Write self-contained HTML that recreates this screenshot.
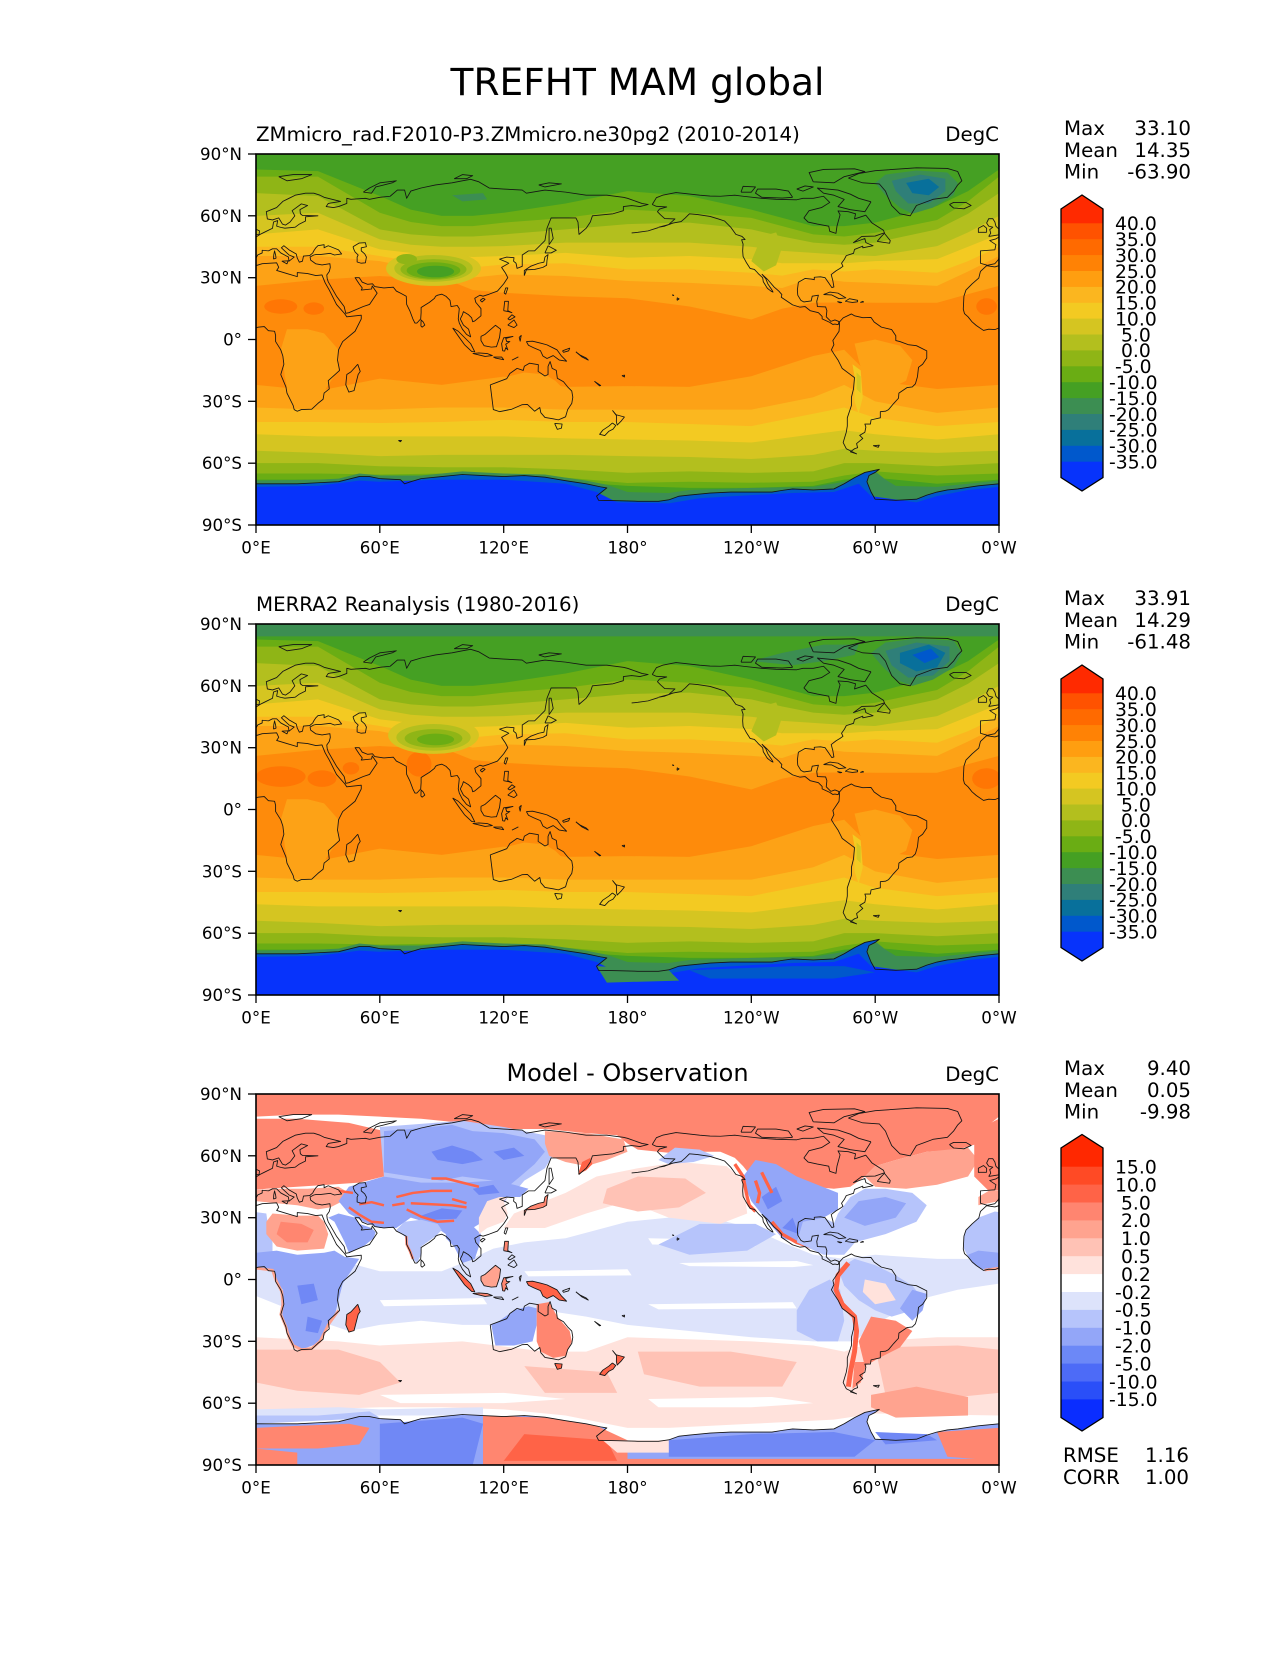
<!DOCTYPE html>
<html><head><meta charset="utf-8"><style>
html,body{margin:0;padding:0;background:#fff;}
svg text{font-family:"DejaVu Sans","Liberation Sans",sans-serif;fill:#000;}
</style></head><body>
<svg width="1275" height="1650" viewBox="0 0 1275 1650" xmlns="http://www.w3.org/2000/svg">
<defs>
<g id="coastA" fill="none" stroke="#151515" stroke-width="0.42" stroke-linejoin="round">
<polyline points="-5.6,36 -9,37 -9,43 -2,43.5 -1.5,46 -4.5,48 -1.5,48.8 2,51 4,52 8,54 8.5,57 10.5,57.7 10,55 12,54.4 14,54 19,54.5 21,56 24,57.5 24,59.5 30,60 22.5,60.2 21.5,61 21.3,63 25,65 22,65.8 17.5,62.5 18.8,60 16.5,57 14.3,55.5 12.8,56 11,59 8,58 5.5,58.5 5,62 10,64 13,67 16,68.5 19,70 24,71 28,71 31,70 33,69 41,67 35,66 34,64.5 37.5,64 40,64.5 44,66 44,68.5 46,68 53,68.5 55,68 60,69 65,69.5 68.5,72.5 72,72.5 73,68.5 75,72 80,73.5 87,75 95,76 100,77 104,77.7 108,76.5 113,73.5 120,73 129,72.5 131,71 140,72.5 150,71.5 160,70 170,70 178,69 180,68.5 187,66 190,65.5 186,64.5 182,65 178,64.5 178,62.5 173,61 163,60 162,57 160,54 156.5,51 156,57 155,59 152,59 143,59 141,54 140,48 135,43 132,43 129,41 129,35.5 126.5,34.5 126,37 124.8,38 125,39.7 121.5,40 118,39 121.5,37.5 122.5,37 119,35 121,32 122,30 120,27 117,23.5 113,22 110,21 108.5,21.5 106,20 106.5,18 109,15 109,11.5 106,9 105,8.6 104.5,10.5 103,12 100.5,13.5 100,12 99,10 100.5,7 103,5 104,1.3 102,2.5 100,5 98.5,8 98,10 98.5,15 97.5,16.5 94.5,16 94,19 92,21 90,22 88,21.5 87,21 86.5,20 84,18 80,15.5 80,13 79.8,10 78,8 77,8 76,10 74.5,14 73,17 72.8,21 70,22.5 68,23.5 66.5,25.4 62,25 57.5,25.7 56.5,27 54,26.8 51.5,27.8 50,30 48,30 50,27 51.5,25 51,24 56,24.5 56.3,26 58.7,22.5 55,17 52,16 45,13 43.5,12.7 42.7,16 39,21 35,28 34.5,29.5 34.3,31.3 35.5,33 36,35 35.8,36.8 32,36.2 29,36.7 26.5,38.5 26.2,40 28,41 29,41.2 31,41.2 36,41.8 38,41 41.5,41.5 40,43.5 37,44.7 35,45.5 33,44.5 33,46 30,45.5 29,44.5 28,43 27.5,42 26,40.7 23,40.5 22.5,38 21,37.5 20,39.5 19.5,41.5 16,43.5 13.5,45.5 12.3,44.5 16,41 18.5,40 16,38 15.7,40 12,42 10,44 8,44 6,43 3,43.3 3,42 0.8,41 0,39.5 -0.5,38.5 -2,36.8 -5.6,36"/>
<polyline points="-17,21 -16,24 -13,27 -9.8,29.8 -9,33 -6,35.8 -2,35.2 3,36.8 10,37.2 11,35 10,33.5 15,32 20,30.5 20,32.5 25,32 29,31 32,31.3 32.5,30 33.5,27.5 35.5,24 37,21 39,17 43,12.5 44,11 51,11.8 51,10 48,4 42,-1 40,-5 39.5,-10 40.5,-15 35,-20 35.5,-24 33,-26 32.5,-29 30,-31 27,-33.8 22,-34 20,-34.8 18.5,-34 18,-32 16,-28 15,-26 14.5,-23 12,-17 13.5,-12 13,-8 12,-5 9.5,-1 9.5,2 9,4 6,4.3 4,6.3 1,6 -2,4.8 -5,5 -7.5,4.4 -11,6.8 -13,8.5 -15,11 -16.7,12.5 -17.3,14.7 -17,21"/>
<polyline points="-5,50 1.5,51 1.7,52.7 0,53.5 -1.5,55 -2,57 -3,58.6 -5,58.6 -6,56.5 -5,55 -3,54.5 -4.5,53.3 -4,51.6 -5,50"/>
<polyline points="-6,52 -6,54 -7.5,55.3 -10,54 -10,52 -6,52"/>
<polyline points="-24,65.5 -22,66.5 -16,66.5 -13.5,65 -17,63.4 -22,63.8 -24,65.5"/>
<polyline points="8.5,39 9.7,39.5 9.5,41 9,43 8.6,41 8.5,39"/>
<polyline points="12.5,38 15.6,38.2 15,36.7 12.5,38"/>
</g>
<g id="coastB" fill="none" stroke="#151515" stroke-width="0.42" stroke-linejoin="round">
<polyline points="11,79 18,80 27,80 22,78 15,77 11,79"/>
<polyline points="52,71.5 55,73.5 60,76 68,77 66,76 58,74 56,71 52,71.5"/>
<polyline points="96,78 100,80 105,79.5 102,78 96,78"/>
<polyline points="137,75 142,76 148,75.5 140,74 137,75"/>
<polyline points="47,45 50,46.8 53,47 53.5,45 51,44.5 51,43 52.7,41.5 53.5,40 53,37.2 51,37 49,37.6 49,40 49.5,41 48,42.5 47.5,43.5 47,45"/>
<polyline points="79.9,6.5 80,9.5 81,8.5 81.8,7 80.5,6 79.9,6.5"/>
<polyline points="49.3,-12 50.5,-15.5 49.5,-17 47.5,-24.8 45,-25.5 43.5,-22 44,-17 46,-15.7 48,-13.5 49.3,-12"/>
<polyline points="130,31 131,33.8 135,34 139,35 140.8,36 141,38.5 141.5,41.2 140,40 139.5,37.5 137,37 133,35.5 130,33.5 130,31"/>
<polyline points="140,42 141.5,45.4 145.5,43.3 143,42 140,42"/>
<polyline points="142,46 142,54 143,54 144,49 142,46"/>
<polyline points="120.2,22.5 121,25 122,25 121,22 120.2,22.5"/>
<polyline points="108.6,19 110,20 111,19.5 109.5,18.2 108.6,19"/>
<polyline points="120,14 120.5,18.5 122.3,18.5 122,14 124,13 122.5,13.5 120,14"/>
<polyline points="122,7 125,9.5 126.5,7 125,5.8 122,7"/>
<polyline points="122,10 124,12 125.5,11 123,9.5 122,10"/>
<polyline points="95.3,5.6 98,4 104,-2 106,-6 104.5,-5.8 101,-2.5 98.5,1 95.3,5.6"/>
<polyline points="105,-6.8 108,-6.5 112,-6.8 114.5,-7.8 111,-8.2 105.5,-6.9"/>
<polyline points="109,1.5 111,2.5 116,6.9 118.5,5 118,1 116.5,-3.5 114,-3.7 110.5,-3 109,-0.5 109,1.5"/>
<polyline points="119.5,-5.5 119,-2 120,0.8 124.5,1.5 121,0.5 121.5,-1 123,-1 121,-2.3 122,-5 121,-4 120.5,-5.6 119.5,-5.5"/>
<polyline points="124,-10 127,-8.5 125.5,-9.3 124,-10"/>
<polyline points="115,-8.5 119,-8.5 120,-9.8 116,-9 115,-8.5"/>
<polyline points="127.5,1 128.5,2 128,-0.8 127.5,1"/>
<polyline points="131,-1 134,-0.8 138,-1.8 141,-2.6 145.8,-5 148,-8 150.5,-10.5 147,-10 144,-7.8 141,-9.2 139,-8 137.8,-5.4 134.5,-4 132,-2.8 131,-1"/>
<polyline points="148.5,-5.5 152,-4.2 151.5,-5.5 149,-6.2 148.5,-5.5"/>
<polyline points="155,-6 157,-7.5 160,-9 161,-10 158,-8.5 155,-6"/>
<polyline points="113.5,-22 114,-26 115,-34 118,-35 124,-33.8 129,-31.6 131.5,-31.5 135,-34.8 137.5,-33 138,-35.5 140,-37.8 144,-38.5 146.5,-39 150,-37.5 151,-34 153,-31 153.5,-28 153,-25 151,-23 149,-20.5 146,-18.8 145.5,-15 143.5,-14 142.5,-10.7 141.5,-13 141.5,-17 140,-17.7 136.7,-15.5 136.8,-12.2 132.5,-11.5 130,-13 129.5,-15 126.5,-14 123,-16.5 121.5,-19 117,-20.7 113.5,-22"/>
<polyline points="144.7,-40.7 148.3,-41 148,-43 146,-43.6 144.7,-40.7"/>
<polyline points="172.7,-34.4 174.5,-36.5 178.5,-37.6 177,-39.5 175,-41.5 174.6,-39.8 174.7,-37 172.7,-34.4"/>
<polyline points="172.7,-40.5 174.3,-41.7 173,-43.5 171,-44.5 169,-46.6 166.5,-46 168,-44 171,-42 172.7,-40.5"/>
<polyline points="164,-20.3 167,-22.3 166.5,-22.5 164,-20.3"/>
<polyline points="177.3,-17.5 178.6,-17.3 178.5,-18.2 177.3,-17.5"/>
<polyline points="69,-49 70.5,-49 70,-49.6 69,-49"/>
<polyline points="0,-70 10,-70 20,-70 30,-69.5 40,-69 50,-66.5 55,-66.5 60,-67.5 70,-68 72,-70 75,-69 80,-67.5 90,-66.5 100,-65.5 110,-66 120,-66.5 130,-66 140,-66.8 150,-68.5 160,-70 167,-71.5 170,-72 165,-76 166,-78 175,-78.2 185,-78.5 195,-78.5 200,-77.8 205,-76 210,-75.5 220,-74.5 230,-74 240,-74 250,-74 255,-73.2 260,-72.5 270,-73 280,-72.5 285,-70 290,-67 295,-64.5 302,-63 300,-64.5 297,-66 296,-69 298,-74 300,-77.5 310,-78 320,-77.5 325,-75.5 330,-74 335,-73 340,-72.5 350,-71 360,-70"/>
</g>
<g id="coastC" fill="none" stroke="#151515" stroke-width="0.42" stroke-linejoin="round">
<polyline points="-168,65.5 -166,68.8 -163,70 -156.5,71.3 -152,70.8 -145,70 -140,69.6 -135,69.5 -128,70 -124,69.5 -115,68.5 -108,68 -98,67.8 -95,68.5 -90,68.5 -85,69.5 -82,66.5 -86,64 -92,62.5 -94.5,59 -92.5,57 -88,56 -82.5,55 -82,52.5 -79,51.5 -78.5,55 -77,60.5 -78,62.4 -73,62 -69.5,61 -70,58.5 -64.5,60.3 -61.5,56.5 -56,53 -55.5,51.8 -60,50.2 -66.5,50 -70.5,47 -65,49 -64.5,47 -61,45.5 -66,44.5 -66,45.3 -70,43.7 -70.5,41.8 -74,40.7 -75,38.8 -76.3,37 -75.6,35.5 -77,34.5 -79,33.3 -81.3,31.5 -80.5,28.5 -80,25.5 -81,25.2 -82.7,27.7 -84.3,30 -86.5,30.4 -89.5,30.2 -89.5,29 -91,29.3 -94,29.6 -97.2,27.8 -97.7,24 -97.5,21.5 -96,19 -94.5,18.2 -91,18.7 -90.5,21 -87.5,21.5 -88.3,18.5 -88,16 -84,15.8 -83.4,14 -83.7,11 -81.5,8.8 -79.5,9.5 -77.5,8.7 -77.9,7.2 -79.5,7.5 -80.5,7.3 -82,8.3 -85.7,10 -85.7,11.2 -87.5,13 -91.5,14 -94,16 -96.5,15.7 -100,16.8 -105.5,20.5 -105.2,21.8 -106.7,23.5 -109,25.5 -112,29 -114.8,31.6 -113,29.5 -112,27 -110,24 -109.5,23 -110.5,23.5 -112.2,24.8 -114.2,28 -114.5,30 -116.5,31.8 -117.1,32.5 -118.5,34 -120.6,34.5 -122.5,37.5 -124,40.3 -124.2,43 -124,46.3 -124.7,48.4 -123,48.5 -124.5,50 -127.5,51 -130,54.5 -133,57.5 -136,58.5 -140,59.7 -146,60.6 -150,61 -152,59 -154,57.2 -158,56.5 -162,55 -164.8,54.5 -160,55.8 -157,58.5 -162,58.7 -164,60.5 -165.5,62 -164.5,63.3 -161,64.3 -166,64.6 -168,65.5"/>
<polyline points="-165,54.3 -170,52.7 -175,52 -178,51.7"/>
<polyline points="-73,78.3 -68,80.5 -60,81.9 -40,83.3 -25,83 -20,81.5 -18,77 -20,75 -22,72 -25,69 -32,68 -40,65 -43,60 -48,61 -52,65 -54,69.5 -55,72 -58,75.5 -66,76 -73,78.3"/>
<polyline points="-62,66.8 -68,68.5 -72,70.5 -78,72.5 -88,73.5 -85,71 -80,70 -75,68 -78,64.5 -72,63 -65,62 -62,66.8"/>
<polyline points="-100,69 -105,68.6 -115,69 -118,71 -117,73 -108,73 -102,72 -100,69"/>
<polyline points="-90,76.5 -80,76 -75,79 -65,81.5 -70,82.8 -85,82.5 -92,81 -90,76.5"/>
<polyline points="-125,71.5 -120,71.5 -118,74 -124,74.3 -125,71.5"/>
<polyline points="-98,73 -94,74.5 -90,74 -95,72 -98,73"/>
<polyline points="-85,21.8 -82,23 -78,22.5 -74.2,20.2 -77.5,19.8 -81,21.6 -85,21.8"/>
<polyline points="-74.5,18.5 -72.5,19.8 -68.5,19 -68.5,18.3 -71,18 -74.5,18.5"/>
<polyline points="-78.3,18.4 -76.2,18 -77,17.8 -78.3,18.4"/>
<polyline points="-67.2,18 -65.6,18.2 -66,18.5 -67.2,18"/>
<polyline points="-156,19 -155,19.7 -155.9,20.2 -156,19"/>
<polyline points="-158.3,21.5 -157.6,21.3 -158,21.7 -158.3,21.5"/>
<polyline points="-59,47.6 -53,46.7 -52.7,48 -55.5,51.5 -57,50 -59,47.6"/>
<polyline points="-77.3,8.5 -75.5,10.5 -71.5,12.4 -70,11.5 -66,10.6 -62,10.7 -60.5,8.5 -57,6 -52,4.8 -50,1.8 -50,-0.5 -48,-1 -44,-2.5 -40,-3 -35,-5.5 -35,-9 -37,-12 -39,-13.5 -39.5,-18 -40.5,-21.5 -42,-23 -44.5,-23.3 -48.5,-26 -48.7,-28.5 -51,-31 -53.5,-34 -55,-34.8 -57.5,-35 -57.5,-38 -62,-39 -62.3,-41 -65,-41 -64.5,-42.5 -65,-45 -67.5,-46.5 -66,-48 -69,-50.5 -68.5,-52.5 -70,-53 -72,-54.5 -69,-55.5 -74,-53 -75.5,-50 -74,-45 -73.5,-42 -73.5,-38 -71.5,-32 -71.5,-28 -70.5,-24 -70,-18.5 -72,-17 -76,-14 -78,-10 -80,-7 -81.2,-5 -80,-2.5 -80.5,-0.5 -79.5,1 -78.5,2.5 -77.5,4 -77.3,7 -77.3,8.5"/>
<polyline points="-61,-51.5 -58,-51.3 -58.5,-52.3 -61,-51.5"/>
</g>
<g id="coast"><use href="#coastA"/><use href="#coastA" transform="translate(360 0)"/><use href="#coastB"/><use href="#coastC" transform="translate(360 0)"/></g>

<g id="base12">
<rect x="0" y="-90" width="360" height="180" fill="#fe8b0b"/>
<polygon fill="#fda216" points="0,90 0,26 30,29 60,30.8 75,30 90,30 105,24 120,22.7 150,21 180,20 210,16 240,9.7 255,15 270,17.8 285,18 300,17.8 330,17.8 345,22 360,26 360,90"/>
<polygon fill="#fbb71f" points="0,90 0,40.5 30,40.5 60,38 75,35 90,33 105,30 120,31.6 150,30.8 180,28.4 210,27.5 240,26 255,25 270,30 285,28 300,27.5 330,26 345,33 360,40.5 360,90"/>
<polygon fill="#f3ca22" points="0,90 0,45 30,45 60,40.5 75,38 90,37 105,35 120,36.4 150,37 180,34 210,34 240,32.4 255,31 270,34 285,33 300,34 330,32.4 345,38 360,45 360,90"/>
<polygon fill="#d5c521" points="0,90 0,51 30,53.4 60,43.7 75,42 90,41 105,40 120,40.5 150,42 180,39.7 210,40.5 240,39 255,37 270,37 285,37 300,38 330,39 345,45 360,51 360,90"/>
<polygon fill="#b3bf1e" points="0,90 0,60 30,61.5 60,48.6 75,46 90,45 105,45 120,45.3 150,47 180,47 210,47 240,45 255,43 270,42 285,41 300,40.5 330,45.3 345,52 360,60 360,90"/>
<polygon fill="#8fb516" points="0,90 0,71 30,69.6 60,53.4 75,51 90,50 105,50 120,51 150,53.4 180,56 210,56.7 240,53.4 255,50 270,47 285,46 300,47 330,53.4 345,61 360,71 360,90"/>
<polygon fill="#6aad14" points="0,90 0,79 30,79 60,61.5 75,57 90,55 105,55 120,56.7 150,59 180,63 210,61.5 240,59 255,55 270,51 285,50 300,51.8 330,58 345,67 360,79 360,90"/>
<polygon fill="#45a023" points="0,90 0,82.5 30,81.7 60,69.6 75,63 90,60 105,60 120,61.5 150,66 180,72 210,69.6 240,63 255,59 270,55 285,55 300,56.7 330,64.8 345,72 360,82.5 360,90"/>
<polygon fill="#fda216" points="0,-90 0,-22 30,-25 60,-19 90,-22 120,-18 150,-23 180,-22.6 210,-23 240,-17.8 270,-8 285,-5 300,-20 330,-24 360,-22 360,-90"/>
<polygon fill="#fbb71f" points="0,-90 0,-33 30,-34 60,-34 90,-33 120,-33 150,-34 180,-34 210,-34 240,-34 270,-28 285,-22 300,-30 330,-35.6 360,-33 360,-90"/>
<polygon fill="#f3ca22" points="0,-90 0,-40 30,-40 60,-40.5 90,-40 120,-39 150,-40 180,-40 210,-41 240,-42 270,-36 285,-33 300,-38 330,-42 360,-40 360,-90"/>
<polygon fill="#d5c521" points="0,-90 0,-46 30,-47 60,-47 90,-47 120,-47 150,-48 180,-48.5 210,-49 240,-50 270,-46 285,-44 300,-46 330,-48.5 360,-46 360,-90"/>
<polygon fill="#b3bf1e" points="0,-90 0,-54 30,-55 60,-56.6 90,-56 120,-56 150,-56 180,-56.6 210,-57 240,-58 270,-56 285,-53 300,-54 330,-55 360,-54 360,-90"/>
<polygon fill="#8fb516" points="0,-90 0,-60 30,-60 60,-61.5 90,-62 120,-62 150,-63 180,-64.7 210,-64 240,-64.7 270,-64 285,-60 300,-60 330,-61.5 360,-60 360,-90"/>
<polygon fill="#6aad14" points="0,-90 0,-65 30,-65 60,-65.5 90,-65 120,-65 150,-67 180,-69.6 210,-69 240,-69.5 270,-69 285,-66 300,-64 330,-66 360,-65 360,-90"/>
<polygon fill="#45a023" points="0,-90 0,-68 30,-68 60,-67.5 90,-66.5 120,-67 150,-69 180,-71 210,-72 240,-72 270,-71 285,-68 300,-67 330,-70 360,-68 360,-90"/>
<polygon fill="#fda216" points="12,-5 15,5 25,5 33,3 40,-5 40,-15 35,-22 30,-30 20,-33 16,-28 14,-18 13,-10"/>
<polygon fill="#fda216" points="115,-22 122,-18 130,-16 140,-17 145,-20 150,-25 150,-30 140,-32 130,-30 118,-28"/>
<polygon fill="#fda216" points="290,-2 300,0 312,-3 318,-10 315,-20 305,-25 295,-20 292,-10"/>
<polygon fill="#f3ca22" points="289,-12 293,-15 294,-28 292,-36 290,-30 290,-18"/>
<polygon fill="#d5c521" points="291,-16 293,-18 293,-26 291,-24"/>
<polygon fill="#b3bf1e" points="240,38 245,50 252,52 255,45 252,36 246,33"/>
<polygon fill="#3c8e52" points="0,-68.5 30,-68 40,-67.5 50,-65 60,-66 80,-66 90,-65 100,-64 120,-65 140,-65.5 150,-67 160,-68.5 170,-70.5 180,-74 200,-74.5 210,-73 240,-72 270,-71.5 285,-69 292,-66 300,-64 305,-68 310,-71 330,-71.5 340,-70.5 360,-68.5 360,-90 0,-90"/>
<polygon fill="#0058cc" points="0,-70 10,-70 20,-70 30,-69.5 40,-69 50,-66.5 55,-66.5 60,-67.5 70,-68 72,-70 75,-69 80,-67.5 90,-66.5 100,-65.5 110,-66 120,-66.5 130,-66 140,-66.8 150,-68.5 160,-70 167,-71.5 170,-72 165,-76 166,-78 175,-78.2 185,-78.5 195,-78.5 200,-77.8 205,-76 210,-75.5 220,-74.5 230,-74 240,-74 250,-74 255,-73.2 260,-72.5 270,-73 280,-72.5 285,-70 290,-67 295,-64.5 302,-63 300,-64.5 297,-66 296,-69 298,-74 300,-77.5 310,-78 320,-77.5 325,-75.5 330,-74 335,-73 340,-72.5 350,-71 360,-70 360,-90 0,-90"/>
<polygon fill="#0733fb" points="0,-71.5 30,-71 50,-68.5 60,-69 90,-68 120,-68 150,-70 165,-74 175,-79 200,-79.5 215,-77 240,-75.5 260,-74.5 280,-74 292,-70 298,-76 320,-79 330,-76 345,-73 360,-71.5 360,-90 0,-90"/>
</g>

<g id="w3">
<polygon fill="#ff8670" points="-12,72 -12,50 -5,43 5,44 20,45 35,46 50,47 62,50 62,72 45,76 20,78 0,78"/>
<polygon fill="#ffa38f" points="-10,36 0,38 10,37 20,36 30,34 36,35 42,38 45,42 40,45 25,44 10,44 -5,43 -10,40"/>
<polygon fill="#b6c4fb" points="-17,21 -16,24 -10,30 -2,33 5,32 6,25 8,18 8,10 5,5 -5,5 -10,7 -15,11 -17,15"/>
<polygon fill="#ffa38f" points="8,32 20,31 30,31 33,28 35,22 33,15 20,14 10,16 5,22 5,28"/>
<polygon fill="#ff8670" points="12,28 22,27 28,24 25,18 15,18 10,22"/>
<polygon fill="#93a6f8" points="-15,12 -10,14 0,13 10,14 20,12 33,13 38,14 43,11 50,10 42,-2 40,-10 38,-18 34,-25 30,-31 22,-34 18,-32 14,-22 12,-14 13,-5 9,0 9,4 0,6 -8,5 -13,8"/>
<polygon fill="#7088f5" points="20,-3 28,-2 30,-10 22,-12"/>
<polygon fill="#7088f5" points="25,-18 32,-20 30,-26 24,-25"/>
<polyline fill="none" stroke="#ffa38f" stroke-width="1.3" points="-7,4.6 0,5.5 8,4.5 9.5,0 12.5,-6 13,-12 12,-17 14.5,-23 16,-28 18,-32 22,-34 27,-33.5 31,-30 33,-26 35,-22 40,-15"/>
</g>
</defs>

<text x="637.5" y="95" font-size="37.5" text-anchor="middle">TREFHT MAM global</text>

<!-- PANEL 1 -->
<text x="256" y="141" font-size="19.8">ZMmicro_rad.F2010-P3.ZMmicro.ne30pg2 (2010-2014)</text>
<text x="999" y="141" font-size="19.8" text-anchor="end">DegC</text>
<svg x="256" y="154" width="743" height="371" viewBox="0 0 360 180" preserveAspectRatio="none">
<g transform="matrix(1 0 0 -1 0 90)">
<use href="#base12"/>
<polygon fill="#3c8e52" points="95,70 110,71 112,68 100,67"/>
<ellipse cx="12" cy="16" rx="8" ry="3.5" fill="#ff7604"/>
<ellipse cx="28" cy="15" rx="5" ry="3" fill="#ff7604"/>
<ellipse cx="354" cy="16" rx="5" ry="4" fill="#ff7604"/>
<ellipse cx="86" cy="34.5" rx="23" ry="8.5" fill="#d5c521"/>
<ellipse cx="86" cy="34.5" rx="19" ry="6.5" fill="#b3bf1e"/>
<ellipse cx="86" cy="34" rx="16" ry="5" fill="#8fb516"/>
<ellipse cx="86" cy="33.5" rx="13" ry="4" fill="#6aad14"/>
<ellipse cx="87" cy="33" rx="9" ry="2.8" fill="#45a023"/>
<ellipse cx="73" cy="39" rx="5" ry="2.5" fill="#8fb516"/>
<polygon fill="#3c8e52" points="300,76 305,80 320,82 335,81 340,76 338,70 328,64 318,61 312,64 305,70"/>
<polygon fill="#2f7f79" points="308,77 322,80 334,78 334,72 326,66 316,66 310,72"/>
<polygon fill="#08709b" points="315,76 326,78 331,74 326,70 318,71"/>
<use href="#coast"/>
</g>
</svg>
<rect x="256" y="154" width="743" height="371" fill="none" stroke="#000" stroke-width="1.6"/>

<!-- PANEL 2 -->
<text x="256" y="611" font-size="19.8">MERRA2 Reanalysis (1980-2016)</text>
<text x="999" y="611" font-size="19.8" text-anchor="end">DegC</text>
<svg x="256" y="624" width="743" height="371" viewBox="0 0 360 180" preserveAspectRatio="none">
<g transform="matrix(1 0 0 -1 0 90)">
<use href="#base12"/>
<polygon fill="#3c8e52" points="0,90 0,84 360,84 360,90"/>
<polygon fill="#3c8e52" points="240,72 255,76 275,80 292,80 290,75 275,72 260,70"/>
<ellipse cx="12" cy="16" rx="12" ry="5" fill="#ff7604"/>
<ellipse cx="32" cy="15" rx="7" ry="4" fill="#ff7604"/>
<ellipse cx="354" cy="15" rx="7" ry="5" fill="#ff7604"/>
<ellipse cx="79" cy="22" rx="6" ry="6" fill="#ff7604"/>
<ellipse cx="46" cy="20" rx="4" ry="3" fill="#ff7604"/>
<ellipse cx="86" cy="36" rx="22" ry="9" fill="#d5c521"/>
<ellipse cx="86" cy="35" rx="18" ry="6.5" fill="#b3bf1e"/>
<ellipse cx="86" cy="34.5" rx="14" ry="4.5" fill="#8fb516"/>
<ellipse cx="87" cy="34" rx="9" ry="2.8" fill="#6aad14"/>
<polygon fill="#3c8e52" points="298,76 305,81 320,83 338,82 342,76 338,69 328,63 318,60 310,63 303,70"/>
<polygon fill="#2f7f79" points="305,77 320,81 336,79 336,72 328,65 316,64 308,70"/>
<polygon fill="#08709b" points="312,76 326,80 334,76 330,69 320,67 312,71"/>
<polygon fill="#0058cc" points="318,75 327,78 331,74 324,71"/>
<polygon fill="#3c8e52" points="165,-76 200,-78 205,-83 170,-84"/>
<polygon fill="#0058cc" points="210,-78 260,-76 285,-76 300,-79 280,-82 220,-82"/>
<use href="#coast"/>
</g>
</svg>
<rect x="256" y="624" width="743" height="371" fill="none" stroke="#000" stroke-width="1.6"/>

<!-- PANEL 3 -->
<text x="627.5" y="1081" font-size="24" text-anchor="middle">Model - Observation</text>
<text x="999" y="1081" font-size="19.8" text-anchor="end">DegC</text>
<svg x="256" y="1094" width="743" height="371" viewBox="0 0 360 180" preserveAspectRatio="none">
<g transform="matrix(1 0 0 -1 0 90)">
<rect x="0" y="-90" width="360" height="180" fill="#fff"/>
<polygon fill="#dde3fb" points="0,10 30,10 45,8 60,4 90,4 100,8 115,15 130,18 150,20 180,28 200,30 220,30 240,25 255,18 270,12 285,10 300,12 330,10 360,10 360,-2 340,-5 320,-10 300,-22 290,-30 270,-30 240,-28 210,-25 180,-22 160,-18 140,-15 120,-22 100,-22 80,-20 60,-22 45,-25 30,-20 0,-8"/>
<polygon fill="#fff" points="205,8 262,9 270,7 260,6 210,6.5"/>
<polygon fill="#fff" points="190,-12 260,-11 262,-14 195,-14.5"/>
<polygon fill="#fff" points="60,-10 110,-9 112,-12 62,-13"/>
<polygon fill="#fff" points="130,4 180,5 182,2 132,1.5"/>
<polygon fill="#fff" points="190,20 240,19 242,16 192,17"/>
<polygon fill="#ffe2dc" points="0,-28 40,-30 60,-32 100,-30 140,-35 160,-35 180,-28 240,-30 270,-32 285,-35 300,-30 330,-28 360,-28 360,-66 300,-65 280,-68 240,-70 200,-72 180,-72 150,-66 120,-63 90,-62 60,-62 30,-63 0,-63"/>
<polygon fill="#fff" points="60,-56 120,-55 150,-58 120,-60 70,-60"/>
<polygon fill="#fff" points="190,-58 250,-57 270,-60 240,-62 195,-62"/>
<polygon fill="#ffc2b5" points="0,-34 40,-34 60,-40 70,-50 50,-56 20,-54 0,-50"/>
<polygon fill="#ffc2b5" points="185,-35 230,-35 262,-40 255,-52 215,-52 188,-46"/>
<polygon fill="#ffc2b5" points="300,-33 340,-32 360,-34 360,-55 330,-58 305,-56"/>
<polygon fill="#ffc2b5" points="130,-42 170,-45 175,-55 140,-55"/>
<polygon fill="#ffa38f" points="298,-56 320,-52 345,-57 345,-66 310,-67 298,-62"/>
<polygon fill="#dde3fb" points="0,-63 40,-62 60,-63 110,-62 110,-66 60,-66 0,-68"/>
<polygon fill="#b6c4fb" points="0,-66 30,-66 55,-64 60,-67 0,-70"/>
<polygon fill="#ffe2dc" points="120,25 140,25 160,32 180,38 200,30 225,27 238,32 236,48 228,55 205,57 185,54 165,50 150,42 140,38 125,32"/>
<polygon fill="#ffc2b5" points="168,37 185,33 205,35 218,42 208,49 185,50 170,44"/>
<polygon fill="#b6c4fb" points="195,17 215,27 242,27 252,22 238,14 210,12"/>
<polygon fill="#b6c4fb" points="262,-25 272,-30 282,-30 285,-20 283,-5 278,0 268,-5 262,-15"/>
<polygon fill="#ff8670" points="0,90 0,79 20,80 40,80 60,79 80,78 100,76 105,73 120,73 140,73 160,71 175,70 180,66 185,63 195,62 205,61 215,62 225,62 232,59 236,55 240,50 250,49 260,47 270,45 280,44 288,45 295,50 300,55 310,58 325,62 340,63 350,66 355,75 360,79 360,90"/>
<polygon fill="#ffa38f" points="295,50 300,45 315,44 330,46 345,50 350,58 345,64 325,62 310,58 300,55"/>
<polygon fill="#b6c4fb" points="195,58 203,64 215,63 222,60 212,57 200,56"/>
<use href="#w3"/>
<use href="#w3" transform="translate(360 0)"/>
<polygon fill="#b6c4fb" points="60,74 100,77 120,74 140,70 145,62 140,54 130,48 125,42 110,42 100,45 80,46 62,50"/>
<polygon fill="#93a6f8" points="62,72 75,73 95,75 105,72 120,71 135,68 140,62 135,56 128,50 122,45 115,48 100,50 90,48 75,50 62,52"/>
<polygon fill="#7088f5" points="85,62 95,65 105,62 110,58 100,56 88,58"/>
<polygon fill="#7088f5" points="115,62 125,64 130,60 120,58"/>
<polygon fill="#ffa38f" points="140,72 160,71 178,68 180,62 170,58 160,55 150,57 142,60 140,66"/>
<polygon fill="#ff6347" points="156,51 158,57 162,59 163,56 160,53"/>
<polygon fill="#93a6f8" points="40,38 45,45 62,50 80,47 100,47 115,48 125,46 132,44 128,40 122,40 118,34 110,28 100,22 92,22 85,27 75,30 68,25 60,25 52,28 45,32"/>
<polygon fill="#7088f5" points="80,31 90,34.5 100,33.5 97,29.5 86,29"/>
<polygon fill="#7088f5" points="105,44 115,46 118,42 108,41"/>
<g fill="none" stroke="#ff6347" stroke-width="1.2" stroke-linejoin="round">
<polyline points="68,40 76,42 85,43 95,43"/>
<polyline points="75,37 85,36.5 95,36 102,35"/>
<polyline points="73,34 80,30.5 88,28 96,28.5"/>
<polyline points="45,35 50,31.5 56,28 62,27.5"/>
<polyline points="50,36.5 56,37.5 62,36"/>
<polyline points="85,49 92,49 100,47 108,45"/>
<polyline points="95,39 102,37"/>
<polyline points="40,43 47,42"/>
<polyline points="66,36 72,37"/>
</g>
<polygon fill="#93a6f8" points="35,30 38,28 43,18 45,13 52,16 57,20 58,23 56,25 50,27 48,30 40,32"/>
<polygon fill="#b6c4fb" points="68,24 72,21 73,17 76,10 78,8 80,12 80,16 87,21 90,24 88,27 80,29 72,28"/>
<polyline fill="none" stroke="#ff8670" stroke-width="1.2" points="72.8,21 73,17 74.5,14 76,10"/>
<polygon fill="#93a6f8" points="92,22 98,26 105,26 109,22 108,16 106,10 100,8 98,12 96,16 92,20"/>
<polygon fill="#ffe2dc" points="108,22 112,25 120,28 122,32 120,38 122,40 118,40 112,38 108,30"/>
<polygon fill="#ff6347" points="49.3,-12 50.5,-15.5 49.5,-17 47.5,-24.8 45,-25.5 43.5,-22 44,-17 46,-15.7 48,-13.5 49.3,-12"/>
<polygon fill="#93a6f8" points="114,-22 118,-20 125,-15 132,-13 136,-14 136,-22 134,-30 125,-32 116,-32"/>
<polygon fill="#ff8670" points="136,-12 142,-11 146,-18 152,-25 153,-30 150,-37 144,-38 138,-35 136,-30 136,-18"/>
<polygon fill="#ff6347" points="95.3,5.6 98,4 104,-2 106,-6 104.5,-5.8 101,-2.5 98.5,1 95.3,5.6"/>
<polygon fill="#ff8670" points="105,-6.8 108,-6.5 112,-6.8 114.5,-7.8 111,-8.2 105.5,-6.9"/>
<polygon fill="#ffa38f" points="109,1.5 111,2.5 116,6.9 118.5,5 118,1 116.5,-3.5 114,-3.7 110.5,-3 109,-0.5 109,1.5"/>
<polygon fill="#ff8670" points="119.5,-5.5 119,-2 120,0.8 124.5,1.5 121,0.5 121.5,-1 123,-1 121,-2.3 122,-5 121,-4 120.5,-5.6 119.5,-5.5"/>
<polygon fill="#ff6347" points="131,-1 134,-0.8 138,-1.8 141,-2.6 145.8,-5 148,-8 150.5,-10.5 147,-10 144,-7.8 141,-9.2 139,-8 137.8,-5.4 134.5,-4 132,-2.8 131,-1"/>
<polygon fill="#ff8670" points="120,14 120.5,18.5 122.3,18.5 122,14 124,13 122.5,13.5 120,14"/>
<polygon fill="#ff8670" points="130,31 131,33.8 135,34 139,35 140.8,36 141,38.5 141.5,41.2 140,40 139.5,37.5 137,37 133,35.5 130,33.5 130,31"/>
<polygon fill="#ff6347" points="172.7,-34.4 174.5,-36.5 178.5,-37.6 177,-39.5 175,-41.5 174.6,-39.8 174.7,-37 172.7,-34.4"/>
<polygon fill="#ff6347" points="172.7,-40.5 174.3,-41.7 173,-43.5 171,-44.5 169,-46.6 166.5,-46 168,-44 171,-42 172.7,-40.5"/>
<polygon fill="#ff6347" points="144.7,-40.7 148.3,-41 148,-43 146,-43.6 144.7,-40.7"/>
<polygon fill="#93a6f8" points="236,50 242,58 252,56 262,50 272,46 282,42 282,34 275,30 265,26 262,18 255,20 248,28 240,38 237,45"/>
<polygon fill="#7088f5" points="245,40 252,45 255,38 248,34"/>
<polygon fill="#7088f5" points="255,25 260,30 263,22"/>
<g fill="none" stroke="#ff6347" stroke-width="1.6" stroke-linejoin="round">
<polyline points="232,56 236,50 237,45 238,40 239,36 242,33"/>
<polyline points="245,52 248,46 250,42"/>
<polyline points="242,48 244,42 243,37"/>
<polyline points="250,28 255,22 262,18 268,16 275,14"/>
</g>
<polygon fill="#b6c4fb" points="262,18 265,28 275,30 283,26 292,20 285,12 275,12"/>
<polygon fill="#b6c4fb" points="278,22 282,32 288,40 295,44 305,44 318,42 325,36 320,28 305,22 290,18"/>
<polygon fill="#93a6f8" points="285,30 292,38 305,40 315,37 310,30 295,26"/>
<polygon fill="#b6c4fb" points="282,5 290,10 300,7 310,2 318,-3 322,-8 318,-15 308,-18 300,-15 292,-10 285,-3"/>
<polygon fill="#ffe2dc" points="295,0 305,-2 310,-10 300,-12 294,-6"/>
<polygon fill="#93a6f8" points="318,-5 325,-7 323,-15 318,-20 312,-14"/>
<polygon fill="#ff8670" points="298,-18 310,-20 318,-25 312,-33 302,-38 295,-42 292,-30"/>
<polyline fill="none" stroke="#ff6347" stroke-width="2.4" stroke-linejoin="round" points="287,8 282,2 281,-5 284,-12 290,-18 291,-25 290,-35 288,-45 287,-52"/>
<polygon fill="#ff8670" points="290,-40 296,-40 293,-50 289,-53"/>
<polygon fill="#93a6f8" points="0,-70 10,-70 20,-70 30,-69.5 40,-69 50,-66.5 55,-66.5 60,-67.5 70,-68 72,-70 75,-69 80,-67.5 90,-66.5 100,-65.5 110,-66 120,-66.5 130,-66 140,-66.8 150,-68.5 160,-70 167,-71.5 170,-72 165,-76 166,-78 175,-78.2 185,-78.5 195,-78.5 200,-77.8 205,-76 210,-75.5 220,-74.5 230,-74 240,-74 250,-74 255,-73.2 260,-72.5 270,-73 280,-72.5 285,-70 290,-67 295,-64.5 302,-63 300,-64.5 297,-66 296,-69 298,-74 300,-77.5 310,-78 320,-77.5 325,-75.5 330,-74 335,-73 340,-72.5 350,-71 360,-70 360,-90 0,-90"/>
<polygon fill="#ff8670" points="0,-72 20,-71 45,-70 55,-72 50,-80 30,-82 0,-82"/>
<polygon fill="#ff8670" points="0,-82 20,-84 20,-90 0,-90"/>
<polygon fill="#7088f5" points="60,-70 100,-67 110,-70 105,-90 60,-90"/>
<polygon fill="#ff8670" points="110,-66 140,-67 165,-71 180,-78 180,-90 110,-90"/>
<polygon fill="#ff6347" points="130,-75 170,-78 175,-88 120,-88"/>
<polygon fill="#7088f5" points="200,-78 240,-75 280,-74 300,-78 290,-86 200,-86"/>
<polygon fill="#ffe2dc" points="168,-78 200,-78 200,-84 175,-84"/>
<polygon fill="#7088f5" points="300,-74 325,-75 330,-78 305,-80"/>
<polygon fill="#ff8670" points="330,-74 360,-72 360,-88 335,-86"/>
<polygon fill="#ff8670" points="180,-87 360,-87 360,-90 180,-90"/>
<use href="#coast"/>
</g>
</svg>
<rect x="256" y="1094" width="743" height="371" fill="none" stroke="#000" stroke-width="1.6"/>

<!-- Axis ticks and labels -->
<g id="axes1" stroke="#000" stroke-width="1.3">
<line x1="248" y1="154" x2="256" y2="154"/><line x1="248" y1="215.8" x2="256" y2="215.8"/><line x1="248" y1="277.7" x2="256" y2="277.7"/><line x1="248" y1="339.5" x2="256" y2="339.5"/><line x1="248" y1="401.3" x2="256" y2="401.3"/><line x1="248" y1="463.2" x2="256" y2="463.2"/><line x1="248" y1="525" x2="256" y2="525"/>
<line x1="256" y1="525" x2="256" y2="533"/><line x1="379.8" y1="525" x2="379.8" y2="533"/><line x1="503.7" y1="525" x2="503.7" y2="533"/><line x1="627.5" y1="525" x2="627.5" y2="533"/><line x1="751.3" y1="525" x2="751.3" y2="533"/><line x1="875.2" y1="525" x2="875.2" y2="533"/><line x1="999" y1="525" x2="999" y2="533"/>
</g>
<g id="lab1" font-size="16.67">
<text x="242" y="160" text-anchor="end">90°N</text><text x="242" y="221.8" text-anchor="end">60°N</text><text x="242" y="283.7" text-anchor="end">30°N</text><text x="242" y="345.5" text-anchor="end">0°</text><text x="242" y="407.3" text-anchor="end">30°S</text><text x="242" y="469.2" text-anchor="end">60°S</text><text x="242" y="531" text-anchor="end">90°S</text>
<text x="256" y="553.5" text-anchor="middle">0°E</text><text x="379.8" y="553.5" text-anchor="middle">60°E</text><text x="503.7" y="553.5" text-anchor="middle">120°E</text><text x="627.5" y="553.5" text-anchor="middle">180°</text><text x="751.3" y="553.5" text-anchor="middle">120°W</text><text x="875.2" y="553.5" text-anchor="middle">60°W</text><text x="999" y="553.5" text-anchor="middle">0°W</text>
</g>
<use href="#axes1" transform="translate(0 470)"/><use href="#lab1" transform="translate(0 470)"/>
<use href="#axes1" transform="translate(0 940)"/><use href="#lab1" transform="translate(0 940)"/>

<!-- Stats -->
<g font-size="19.8">
<text x="1064" y="135">Max</text><text x="1064" y="157">Mean</text><text x="1064" y="178.5">Min</text>
<text x="1191" y="135" text-anchor="end">33.10</text><text x="1191" y="157" text-anchor="end">14.35</text><text x="1191" y="178.5" text-anchor="end">-63.90</text>
<text x="1064" y="605">Max</text><text x="1064" y="627">Mean</text><text x="1064" y="648.5">Min</text>
<text x="1191" y="605" text-anchor="end">33.91</text><text x="1191" y="627" text-anchor="end">14.29</text><text x="1191" y="648.5" text-anchor="end">-61.48</text>
<text x="1064" y="1075">Max</text><text x="1064" y="1097">Mean</text><text x="1064" y="1118.5">Min</text>
<text x="1191" y="1075" text-anchor="end">9.40</text><text x="1191" y="1097" text-anchor="end">0.05</text><text x="1191" y="1118.5" text-anchor="end">-9.98</text>
<text x="1063" y="1462">RMSE</text><text x="1063" y="1484">CORR</text>
<text x="1189" y="1462" text-anchor="end">1.16</text><text x="1189" y="1484" text-anchor="end">1.00</text>
</g>

<!-- Colorbar 1 -->
<g id="cb1">
<polygon fill="#ff2a00" points="1061,209.5 1082,195 1103,209.5"/>
<rect x="1061" y="209" width="42" height="14.8" fill="#ff2a00"/>
<rect x="1061" y="223.3" width="42" height="16.4" fill="#ff5200"/>
<rect x="1061" y="239.2" width="42" height="16.4" fill="#ff6a00"/>
<rect x="1061" y="255.1" width="42" height="16.4" fill="#ff8205"/>
<rect x="1061" y="271" width="42" height="16.4" fill="#ff9e10"/>
<rect x="1061" y="286.9" width="42" height="16.4" fill="#fbb61f"/>
<rect x="1061" y="302.8" width="42" height="16.4" fill="#f3ca22"/>
<rect x="1061" y="318.6" width="42" height="16.4" fill="#d5c521"/>
<rect x="1061" y="334.5" width="42" height="16.4" fill="#b3bf1e"/>
<rect x="1061" y="350.4" width="42" height="16.4" fill="#8fb516"/>
<rect x="1061" y="366.3" width="42" height="16.4" fill="#6aad14"/>
<rect x="1061" y="382.2" width="42" height="16.4" fill="#45a023"/>
<rect x="1061" y="398.1" width="42" height="16.4" fill="#3c8e52"/>
<rect x="1061" y="414" width="42" height="16.4" fill="#2f7f79"/>
<rect x="1061" y="429.9" width="42" height="16.4" fill="#08709b"/>
<rect x="1061" y="445.8" width="42" height="16.4" fill="#0058cc"/>
<rect x="1061" y="461.7" width="42" height="15.8" fill="#0733fb"/>
<polygon fill="#0733fb" points="1061,477 1082,491 1103,477"/>
<polygon fill="none" stroke="#000" stroke-width="1.3" stroke-linejoin="miter" points="1061,209 1082,195 1103,209 1103,477.5 1082,491 1061,477.5"/>
<g font-size="18.75">
<text x="1115" y="230.1">40.0</text><text x="1115" y="246">35.0</text><text x="1115" y="261.9">30.0</text><text x="1115" y="277.8">25.0</text><text x="1115" y="293.7">20.0</text><text x="1115" y="309.6">15.0</text><text x="1115" y="325.4">10.0</text><text x="1121" y="341.3">5.0</text><text x="1121" y="357.2">0.0</text><text x="1115" y="373.1">-5.0</text><text x="1109" y="389">-10.0</text><text x="1109" y="404.9">-15.0</text><text x="1109" y="420.8">-20.0</text><text x="1109" y="436.7">-25.0</text><text x="1109" y="452.6">-30.0</text><text x="1109" y="468.5">-35.0</text>
</g>
</g>
<use href="#cb1" transform="translate(0 470)"/>

<!-- Colorbar 3 -->
<polygon fill="#ff2800" points="1061,1148.5 1082,1134.5 1103,1148.5"/>
<rect x="1061" y="1148" width="42" height="19.2" fill="#ff2800"/>
<rect x="1061" y="1166.7" width="42" height="18.4" fill="#ff4a25"/>
<rect x="1061" y="1184.6" width="42" height="18.4" fill="#ff6347"/>
<rect x="1061" y="1202.5" width="42" height="18.4" fill="#ff8570"/>
<rect x="1061" y="1220.4" width="42" height="18.4" fill="#ffa38f"/>
<rect x="1061" y="1238.3" width="42" height="18.4" fill="#ffc2b5"/>
<rect x="1061" y="1256.2" width="42" height="18.4" fill="#ffe2dc"/>
<rect x="1061" y="1274.1" width="42" height="18.4" fill="#ffffff"/>
<rect x="1061" y="1292" width="42" height="18.4" fill="#dde3fb"/>
<rect x="1061" y="1309.9" width="42" height="18.4" fill="#b6c4fb"/>
<rect x="1061" y="1327.8" width="42" height="18.4" fill="#93a6f8"/>
<rect x="1061" y="1345.7" width="42" height="18.4" fill="#6c88f7"/>
<rect x="1061" y="1363.6" width="42" height="18.4" fill="#4d6bf7"/>
<rect x="1061" y="1381.5" width="42" height="18.4" fill="#2a4ff8"/>
<rect x="1061" y="1399.4" width="42" height="18.1" fill="#0a2dff"/>
<polygon fill="#0a2dff" points="1061,1417 1082,1431 1103,1417"/>
<polygon fill="none" stroke="#000" stroke-width="1.3" points="1061,1148 1082,1134.5 1103,1148 1103,1417.5 1082,1431 1061,1417.5"/>
<g font-size="18.75">
<text x="1115" y="1173.5">15.0</text><text x="1115" y="1191.4">10.0</text><text x="1121" y="1209.3">5.0</text><text x="1121" y="1227.2">2.0</text><text x="1121" y="1245.1">1.0</text><text x="1121" y="1263">0.5</text><text x="1121" y="1280.9">0.2</text><text x="1115" y="1298.8">-0.2</text><text x="1115" y="1316.7">-0.5</text><text x="1115" y="1334.6">-1.0</text><text x="1115" y="1352.5">-2.0</text><text x="1115" y="1370.4">-5.0</text><text x="1109" y="1388.3">-10.0</text><text x="1109" y="1406.2">-15.0</text>
</g>
</svg>
</body></html>
